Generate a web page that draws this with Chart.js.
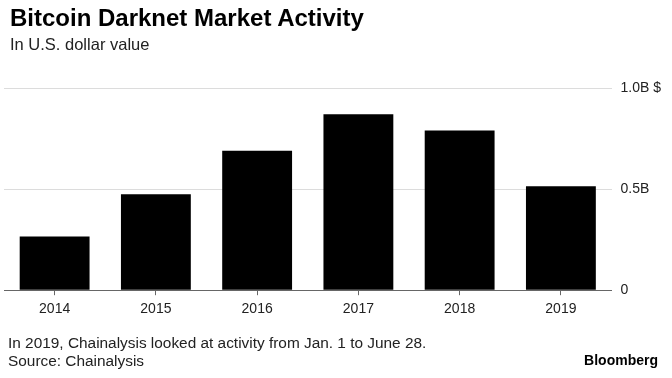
<!DOCTYPE html>
<html>
<head>
<meta charset="utf-8">
<script src="https://cdn.jsdelivr.net/npm/chart.js@4.4.1/dist/chart.umd.min.js"></script>
<style>
  html, body { margin: 0; padding: 0; background: #fff; }
  #wrap { position: relative; width: 672px; height: 378px; overflow: hidden; font-family: "Liberation Sans", Arial, sans-serif; color: #000; }
  #wrap canvas { position: absolute; left: 0; top: 0; }
  .txt { position: absolute; line-height: 1; white-space: nowrap; }
  #title { left: 10px; top: 5.5px; font-size: 24px; font-weight: bold; }
  #sub { left: 10px; top: 35.5px; font-size: 16.5px; color: #222; }
  #note { left: 8px; top: 335px; font-size: 15.4px; color: #222; }
  #src { left: 8px; top: 353px; font-size: 15.4px; color: #222; }
  #brand { right: 14px; top: 353px; font-size: 14px; font-weight: bold; }
</style>
</head>
<body>
<div id="wrap">
  <canvas id="chart" width="672" height="378"></canvas>
  <div class="txt" id="title">Bitcoin Darknet Market Activity</div>
  <div class="txt" id="sub">In U.S. dollar value</div>
  <div class="txt" id="note">In 2019, Chainalysis looked at activity from Jan. 1 to June 28.</div>
  <div class="txt" id="src">Source: Chainalysis</div>
  <div class="txt" id="brand">Bloomberg</div>
</div>
<script>
// data, in billions of US dollars
const years = ["2014", "2015", "2016", "2017", "2018", "2019"];
const activity = [0.265, 0.474, 0.69, 0.87, 0.79, 0.514];
const tickValues = [0, 0.5, 1.0];
const tickLabels = ["0", "0.5B", "1.0B $"];

const ctx = document.getElementById("chart").getContext("2d");
new Chart(ctx, {
    type: "bar",
    data: {
        labels: years,
        datasets: [{
            data: activity,
            backgroundColor: "#000",
            borderWidth: 0,
            barPercentage: 0.69,
            categoryPercentage: 1.0
        }]
    },
    options: {
        responsive: false,
        animation: false,
        layout: { padding: { top: 88, left: 4, right: 2, bottom: 54 } },
        plugins: {
            legend: { display: false },
            tooltip: { enabled: false }
        },
        scales: {
            x: {
                grid: {
                    display: true,
                    drawOnChartArea: false,
                    drawTicks: true,
                    tickLength: 5,
                    offset: false,
                    color: "#666"
                },
                border: { display: true, color: "#666", width: 1 },
                ticks: {
                    color: "#222",
                    padding: 6,
                    font: { family: "Liberation Sans", size: 14 }
                }
            },
            y: {
                position: "right",
                min: 0,
                max: 1.0,
                afterBuildTicks: function (axis) {
                    axis.ticks = tickValues.map(v => ({ value: v }));
                },
                grid: { color: "#dcdcdc", drawTicks: false },
                border: { display: false },
                ticks: {
                    color: "#222",
                    padding: 9,
                    font: { family: "Liberation Sans", size: 14 },
                    callback: function (value) {
                        const i = tickValues.indexOf(value);
                        return i >= 0 ? tickLabels[i] : "";
                    }
                }
            }
        }
    }
});
</script>
</body>
</html>
